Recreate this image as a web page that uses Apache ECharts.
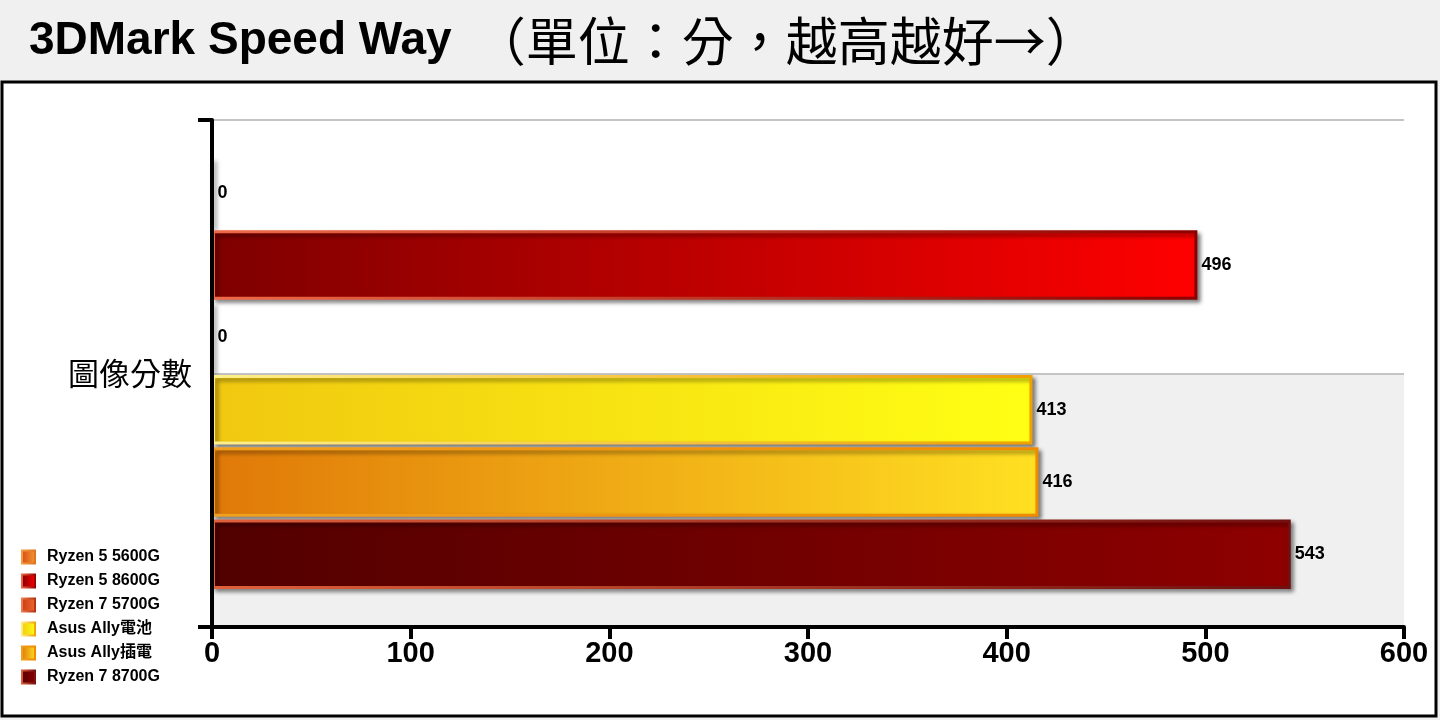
<!DOCTYPE html>
<html>
<head>
<meta charset="utf-8">
<script src="https://cdn.jsdelivr.net/npm/echarts@6/dist/echarts.min.js"></script>
<style>
  html, body { margin: 0; padding: 0; background: #f0f0f0; }
  #chart { width: 1440px; height: 720px; }
</style>
</head>
<body>
<div id="chart"></div>
<script>
// 3DMark Speed Way 圖像分數
const categories = ['圖像分數']
const seriesNames = ['Ryzen 5 5600G', 'Ryzen 5 8600G', 'Ryzen 7 5700G', 'Asus Ally電池', 'Asus Ally插電', 'Ryzen 7 8700G']
const seriesValues = [0, 496, 0, 413, 416, 543]
const xTicks = [0, 100, 200, 300, 400, 500, 600]

// 每個系列的漸層 (左 -> 右) 與邊框
const fills = [
  ['#d84a12', '#f39a35'],
  ['#7e0000', '#ff0000'],
  ['#cc3a10', '#ea6a30'],
  ['#f0c810', '#ffff14'],
  ['#e07808', '#ffe022'],
  ['#520000', '#8e0000']
]
const borders = [
  ['#f0a040', '#e07020'],
  ['#f06a48', '#8e0000'],
  ['#f08050', '#b03010'],
  ['#fff08a', '#f0a000'],
  ['#f0a020', '#f08a00'],
  ['#e0603a', '#701010']
]

const grad = (c) => new echarts.graphic.LinearGradient(0, 0, 1, 0, [
  {offset: 0, color: c[0]},
  {offset: 1, color: c[1]}
])

const myChart = echarts.init(document.getElementById('chart'))

const series = seriesNames.map((name, i) => ({
  name,
  type: 'bar',
  yAxisIndex: 0,
  data: [seriesValues[i]],
  barGap: '4%',
  barCategoryGap: '15%',
  itemStyle: {
    color: grad(fills[i]),
    borderColor: grad(borders[i]),
    borderWidth: 3,
    shadowBlur: 4,
    shadowColor: 'rgba(0,0,0,0.45)',
    shadowOffsetX: 3,
    shadowOffsetY: 3
  },
  label: {
    show: true,
    position: 'right',
    distance: 4,
    color: '#000',
    fontSize: 18,
    fontWeight: 'bold',
    fontFamily: 'Liberation Sans, Arial, sans-serif'
  }
}))

myChart.setOption({
  animation: false,
  backgroundColor: '#f0f0f0',
  graphic: [{
    type: 'rect',
    z: -10,
    shape: {x: 2, y: 82, width: 1434, height: 634},
    style: {fill: '#fff', stroke: '#000', lineWidth: 3}
  }],
  title: {
    left: 24,
    top: 10,
    text: '{en|3DMark Speed Way}{zh|（單位：分，越高越好→）}',
    textStyle: {
      rich: {
        en: {fontSize: 46, fontWeight: 'bold', color: '#000', fontFamily: 'Liberation Sans, Arial, sans-serif'},
        zh: {fontSize: 52, fontWeight: 'normal', color: '#000', padding: [0, 0, 0, 22], fontFamily: 'Noto Sans CJK TC, sans-serif'}
      }
    }
  },
  legend: {
    orient: 'vertical',
    left: 16,
    top: 544,
    itemWidth: 13,
    itemHeight: 13,
    itemGap: 8,
    icon: 'rect',
    data: seriesNames,
    textStyle: {
      fontSize: 16,
      fontWeight: 'bold',
      color: '#000',
      padding: [0, 0, 0, 7],
      fontFamily: 'Liberation Sans, Arial, Noto Sans CJK TC, sans-serif'
    }
  },
  grid: {left: 212, right: 36, top: 120, bottom: 93, containLabel: false},
  xAxis: {
    type: 'value',
    min: xTicks[0],
    max: xTicks[xTicks.length - 1],
    interval: xTicks[1] - xTicks[0],
    axisLine: {show: true, lineStyle: {color: '#000', width: 4}},
    axisTick: {show: true, length: 12, lineStyle: {color: '#000', width: 4}},
    axisLabel: {
      color: '#000', fontSize: 29, fontWeight: 'bold', margin: 12,
      fontFamily: 'Liberation Sans, Arial, sans-serif'
    },
    splitLine: {show: false}
  },
  yAxis: [{
    type: 'category',
    data: categories,
    z: 5,
    axisLine: {show: true, lineStyle: {color: '#000', width: 4}},
    axisTick: {show: true, length: 14, lineStyle: {color: '#000', width: 4}},
    axisLabel: {
      color: '#000', fontSize: 31, margin: 20,
      fontFamily: 'Noto Sans CJK TC, sans-serif'
    },
    splitLine: {show: false}
  }, {
    type: 'value',
    min: 0,
    max: 2,
    interval: 1,
    position: 'left',
    axisLine: {show: false},
    axisTick: {show: false},
    axisLabel: {show: false},
    splitLine: {show: true, lineStyle: {color: '#c4c4c4', width: 2}},
    splitArea: {show: true, areaStyle: {color: ['#f0f0f0', '#ffffff']}}
  }],
  series
})

window.addEventListener('resize', () => myChart.resize())
</script>
</body>
</html>
